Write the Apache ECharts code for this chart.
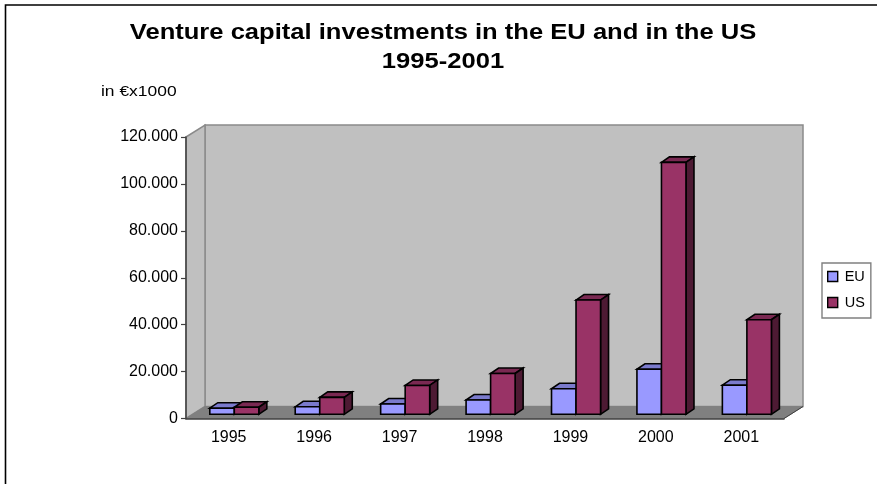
<!DOCTYPE html>
<html>
<head>
<meta charset="utf-8">
<style>
  html, body { margin: 0; padding: 0; background: #fff; }
  #chart { width: 877px; height: 484px; }
</style>
<script src="https://cdn.jsdelivr.net/npm/echarts@6/dist/echarts.min.js"></script>
</head>
<body>
<div id="chart"></div>
<script>
// Venture capital investments, in thousands of euro
const years = ['1995', '1996', '1997', '1998', '1999', '2000', '2001'];
const euValues = [2600, 3200, 4400, 6100, 10900, 19200, 12400];
const usValues = [3000, 7200, 12300, 17400, 48700, 107400, 40300];
const chartTitle = ['Venture capital investments in the EU and in the US', '1995-2001'];

// Oblique projection: how far the floor recedes, and how far each bar recedes
const FLOOR_DX = 19, FLOOR_DY = -12;
const BAR_DX = 8, BAR_DY = -5.5;
const BAR_SHIFT_X = 5.6, BAR_SHIFT_Y = -4.2;
const BAR_BAND_SHARE = 0.287;
const FONT = '"Liberation Sans", Arial, sans-serif';
const WIDE = 1.162; // horizontal stretch of the free-standing text

const chart = echarts.init(document.getElementById('chart'), null, { renderer: 'canvas' });

const poly = (points, fill, stroke, lineWidth) => ({
  type: 'polygon',
  shape: { points },
  style: { fill, stroke, lineWidth }
});

// Left wall, back wall and floor of the box, taken from the grid rectangle
function renderBox(params) {
  const g = params.coordSys;
  const L = g.x, R = g.x + g.width, T = g.y, B = g.y + g.height;
  const dx = FLOOR_DX, dy = FLOOR_DY;
  const edge = '#8a8a8a';
  return {
    type: 'group',
    children: [
      poly([[L + dx, T + dy], [R + dx, T + dy], [R + dx, B + dy], [L + dx, B + dy]], '#c0c0c0', edge, 1.5),
      poly([[L, T], [L + dx, T + dy], [L + dx, B + dy], [L, B]], '#c0c0c0', edge, 1.5),
      poly([[L, B], [L + dx, B + dy], [R + dx, B + dy], [R, B]], '#808080', '#808080', 1),
      { type: 'line', shape: { x1: R, y1: B, x2: R + dx, y2: B + dy }, style: { stroke: '#404040', lineWidth: 1 } }
    ]
  };
}

// One oblique box per data point: front, top and side faces
function barRenderer(seriesPos, front, top, side) {
  return function (params, api) {
    const idx = api.value(0);
    const tip = api.coord([idx, api.value(1)]);
    const base = api.coord([idx, 0]);
    const w = api.size([1, 0])[0] * BAR_BAND_SHARE;
    const x0 = tip[0] + BAR_SHIFT_X + (seriesPos - 1) * w;
    const x1 = x0 + w;
    const yT = tip[1] + BAR_SHIFT_Y;
    const yB = base[1] + BAR_SHIFT_Y;
    const ink = '#000';
    const lw = 1.6;
    return {
      type: 'group',
      children: [
        poly([[x0, yT], [x0 + BAR_DX, yT + BAR_DY], [x1 + BAR_DX, yT + BAR_DY], [x1, yT]], top, ink, lw),
        poly([[x1, yT], [x1 + BAR_DX, yT + BAR_DY], [x1 + BAR_DX, yB + BAR_DY], [x1, yB]], side, ink, lw),
        poly([[x0, yT], [x1, yT], [x1, yB], [x0, yB]], front, ink, lw)
      ]
    };
  };
}

const pairs = values => values.map((v, i) => [i, v]);

const titleLine = (text, y) => ({
  type: 'text', x: 443, y, z: 10, scaleX: WIDE, silent: true,
  style: { text, font: 'bold 22px ' + FONT, fill: '#000', align: 'center', verticalAlign: 'middle' }
});

chart.setOption({
  animation: false,
  backgroundColor: '#fff',
  legend: {
    orient: 'vertical',
    left: 822,
    top: 263,
    padding: [6, 6, 8, 5],
    itemWidth: 10,
    itemHeight: 10,
    itemGap: 11,
    borderColor: '#808080',
    borderWidth: 1.4,
    backgroundColor: '#fff',
    textStyle: { fontFamily: FONT, fontSize: 14.5, color: '#000', padding: [0, 0, 0, 2] },
    data: [
      { name: 'EU', icon: 'rect', itemStyle: { color: '#9999ff', borderColor: '#000', borderWidth: 1.4 } },
      { name: 'US', icon: 'rect', itemStyle: { color: '#993366', borderColor: '#000', borderWidth: 1.4 } }
    ]
  },
  grid: { left: 186, top: 137, width: 598, height: 281.5, containLabel: false },
  xAxis: {
    type: 'category',
    data: years,
    z: 5,
    axisLine: { lineStyle: { color: '#404040', width: 1.5 } },
    axisTick: { alignWithLabel: false, length: 5, lineStyle: { color: '#404040', width: 1.2 } },
    axisLabel: { fontFamily: FONT, fontSize: 16, color: '#000', margin: 11 },
    splitLine: { show: false }
  },
  yAxis: {
    type: 'value',
    min: 0,
    max: 120000,
    interval: 20000,
    z: 5,
    axisLine: { show: true, lineStyle: { color: '#404040', width: 1.5 } },
    axisTick: { show: true, length: 5, lineStyle: { color: '#404040', width: 1.2 } },
    axisLabel: {
      fontFamily: FONT, fontSize: 16, color: '#000', margin: 8,
      formatter: v => String(v).replace(/\B(?=(\d{3})+$)/g, '.')
    },
    splitLine: { show: false }
  },
  graphic: [
    // Frame along the top and left of the chart area
    { type: 'polyline', silent: true, z: 0, shape: { points: [[5.5, 484], [5.5, 5], [877, 5]] },
      style: { fill: 'none', stroke: '#000', lineWidth: 1.6 } },
    titleLine(chartTitle[0], 33),
    titleLine(chartTitle[1], 62),
    // Unit note above the value axis
    { type: 'text', x: 101, y: 92, z: 10, scaleX: WIDE, silent: true,
      style: { text: 'in €x1000', font: '15px ' + FONT, fill: '#000', verticalAlign: 'middle' } }
  ],
  series: [
    { type: 'custom', name: 'box', z: 1, silent: true, data: [[0, 0]], renderItem: renderBox, clip: false },
    {
      type: 'custom', name: 'EU', z: 2, data: pairs(euValues), encode: { x: 0, y: 1 },
      itemStyle: { color: '#9999ff' },
      renderItem: barRenderer(0, '#9999ff', '#7a7acc', '#4d4d80')
    },
    {
      type: 'custom', name: 'US', z: 3, data: pairs(usValues), encode: { x: 0, y: 1 },
      itemStyle: { color: '#993366' },
      renderItem: barRenderer(1, '#993366', '#7a2952', '#4d1a33')
    }
  ]
});
</script>
</body>
</html>
